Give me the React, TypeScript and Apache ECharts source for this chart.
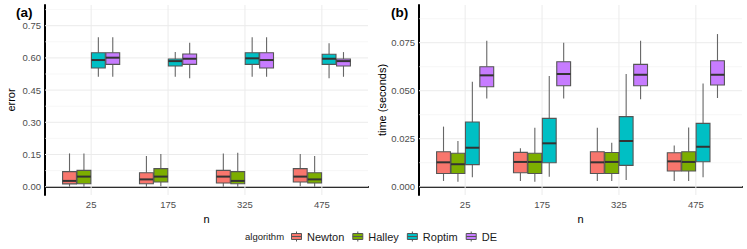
import React, { useEffect, useRef } from "react";
import * as echarts from "echarts";

const categories = ["25", "175", "325", "475"];
const algorithms = ["Newton", "Halley", "Roptim", "DE"];
const colors = ["#F8766D", "#7CAE00", "#00BFC4", "#C77CFF"];

// each row: [low whisker, Q1, median, Q3, high whisker] for n = 25, 175, 325, 475
const errorNewton = [
  [0.0, 0.013, 0.027, 0.07, 0.155],
  [0.0, 0.014, 0.034, 0.065, 0.143],
  [0.0, 0.017, 0.047, 0.076, 0.155],
  [0.002, 0.022, 0.047, 0.084, 0.152],
];
const errorHalley = [
  [0.0, 0.014, 0.047, 0.076, 0.155],
  [0.002, 0.022, 0.047, 0.084, 0.152],
  [0.0, 0.014, 0.027, 0.07, 0.158],
  [0.0, 0.017, 0.034, 0.065, 0.143],
];
const errorRoptim = [
  [0.512, 0.553, 0.59, 0.624, 0.696],
  [0.512, 0.562, 0.585, 0.595, 0.627],
  [0.512, 0.57, 0.598, 0.624, 0.696],
  [0.505, 0.57, 0.596, 0.617, 0.668],
];
const errorDE = [
  [0.512, 0.57, 0.601, 0.624, 0.696],
  [0.505, 0.57, 0.596, 0.618, 0.671],
  [0.512, 0.553, 0.59, 0.624, 0.696],
  [0.512, 0.562, 0.585, 0.595, 0.627],
];

const timeNewton = [
  [0.003, 0.0069, 0.0127, 0.0182, 0.0313],
  [0.003, 0.0073, 0.0129, 0.0179, 0.02],
  [0.003, 0.0069, 0.0127, 0.0182, 0.0307],
  [0.003, 0.0082, 0.0132, 0.0177, 0.0215],
];
const timeHalley = [
  [0.0026, 0.0069, 0.0117, 0.0174, 0.0238],
  [0.0026, 0.0069, 0.0129, 0.0174, 0.0307],
  [0.003, 0.0069, 0.0129, 0.0178, 0.0229],
  [0.003, 0.0082, 0.0129, 0.0182, 0.0309],
];
const timeRoptim = [
  [0.0049, 0.0115, 0.0203, 0.0337, 0.0547],
  [0.0052, 0.0125, 0.0226, 0.0356, 0.0576],
  [0.0035, 0.0111, 0.0238, 0.0365, 0.0587],
  [0.0049, 0.013, 0.0208, 0.033, 0.0538],
];
const timeDE = [
  [0.046, 0.0521, 0.058, 0.0625, 0.076],
  [0.046, 0.0526, 0.0587, 0.0651, 0.075],
  [0.0455, 0.0526, 0.0583, 0.0637, 0.076],
  [0.0462, 0.053, 0.0583, 0.0656, 0.0795],
];

const errorTicks = [0, 0.15, 0.3, 0.45, 0.6, 0.75];
const errorMinorTicks = [0.075, 0.225, 0.375, 0.525, 0.675, 0.825];
const timeTicks = [0, 0.025, 0.05, 0.075];
const timeMinorTicks = [0.0125, 0.0375, 0.0625, 0.0875];

const FONT = "'Liberation Sans', Arial, Helvetica, sans-serif";
const SLOT = 0.1875;
const BOX_W = 0.18;

export default function App() {
  const ref = useRef<HTMLDivElement>(null);

  useEffect(() => {
    if (!ref.current) return;
    const chart = echarts.init(ref.current, null, { renderer: "svg" });

    const errorData = [errorNewton, errorHalley, errorRoptim, errorDE];
    const timeData = [timeNewton, timeHalley, timeRoptim, timeDE];

    const boxRender = (algIdx: number) => (params: any, api: any) => {
      const x = api.value(0) + (algIdx - 1.5) * SLOT;
      const low = api.coord([x, api.value(1)]);
      const q1 = api.coord([x, api.value(2)]);
      const med = api.coord([x, api.value(3)]);
      const q3 = api.coord([x, api.value(4)]);
      const high = api.coord([x, api.value(5)]);
      const half = api.size([BOX_W, 0])[0] / 2;
      const cx = low[0];
      return {
        type: "group",
        children: [
          { type: "line", shape: { x1: cx, y1: high[1], x2: cx, y2: q3[1] }, style: { stroke: "#666666", lineWidth: 1.1 } },
          { type: "line", shape: { x1: cx, y1: q1[1], x2: cx, y2: low[1] }, style: { stroke: "#666666", lineWidth: 1.1 } },
          {
            type: "rect",
            shape: { x: cx - half, y: q3[1], width: half * 2, height: q1[1] - q3[1] },
            style: { fill: colors[algIdx], stroke: "#555555", lineWidth: 1.1 },
          },
          { type: "line", shape: { x1: cx - half, y1: med[1], x2: cx + half, y2: med[1] }, style: { stroke: "#333333", lineWidth: 2 } },
        ],
      };
    };

    const gridRender = (params: any, api: any) => {
      const cs = params.coordSys;
      const kind = api.value(0);
      const v = api.value(1);
      const major = api.value(2) === 1;
      const style = { stroke: major ? "#ebebeb" : "#f2f2f2", lineWidth: major ? 1 : 0.6 };
      if (kind === 0) {
        const p = api.coord([1, v]);
        return { type: "line", shape: { x1: cs.x, y1: p[1], x2: cs.x + cs.width, y2: p[1] }, style };
      }
      const p = api.coord([v, 0]);
      return { type: "line", shape: { x1: p[0], y1: cs.y, x2: p[0], y2: cs.y + cs.height }, style };
    };

    const gridLinesData = (major: number[], minor: number[]) => [
      ...minor.map((v) => [0, v, 0]),
      ...major.map((v) => [0, v, 1]),
      ...categories.map((_, i) => [1, i + 1, 1]),
    ];

    const xAxisBase = (gridIndex: number) => ({
      type: "value",
      gridIndex,
      min: 0.4,
      max: 4.6,
      minInterval: 1,
      maxInterval: 1,
      name: "n",
      nameLocation: "middle",
      nameGap: 15,
      nameTextStyle: { fontSize: 11, color: "#000", fontFamily: FONT },
      axisLine: { show: true, lineStyle: { color: "#000", width: 2 } },
      axisTick: { show: false },
      splitLine: { show: false },
      axisLabel: {
        margin: 4,
        fontSize: 9.5,
        color: "#4d4d4d",
        fontFamily: FONT,
        formatter: (v: number) => {
          const i = Math.round(v);
          if (Math.abs(v - i) < 1e-6 && i >= 1 && i <= categories.length) return categories[i - 1];
          return "";
        },
      },
    });

    const yAxisBase = (gridIndex: number, min: number, max: number, step: number, ticks: number[], digits: number, name: string, gap: number) => ({
      type: "value",
      gridIndex,
      min,
      max,
      minInterval: step,
      maxInterval: step,
      name,
      nameLocation: "middle",
      nameGap: gap,
      nameTextStyle: { fontSize: 11, color: "#000", fontFamily: FONT },
      axisLine: { show: true, lineStyle: { color: "#000", width: 2 } },
      axisTick: { show: false },
      splitLine: { show: false },
      axisLabel: {
        margin: 4,
        fontSize: 9.5,
        color: "#4d4d4d",
        fontFamily: FONT,
        formatter: (v: number) => (ticks.some((t) => Math.abs(t - v) < step * 1e-4) ? v.toFixed(digits) : ""),
      },
    });

    const series: any[] = [
      {
        type: "custom",
        name: "gridA",
        xAxisIndex: 0,
        yAxisIndex: 0,
        z: 1,
        silent: true,
        renderItem: gridRender,
        data: gridLinesData(errorTicks, errorMinorTicks),
      },
      {
        type: "custom",
        name: "gridB",
        xAxisIndex: 1,
        yAxisIndex: 1,
        z: 1,
        silent: true,
        renderItem: gridRender,
        data: gridLinesData(timeTicks, timeMinorTicks),
      },
    ];

    algorithms.forEach((alg, a) => {
      series.push({
        type: "custom",
        name: alg,
        xAxisIndex: 0,
        yAxisIndex: 0,
        z: 3,
        itemStyle: { color: colors[a] },
        renderItem: boxRender(a),
        encode: { x: 0, y: [1, 2, 3, 4, 5] },
        data: errorData[a].map((r, i) => [i + 1, ...r]),
      });
      series.push({
        type: "custom",
        name: alg,
        xAxisIndex: 1,
        yAxisIndex: 1,
        z: 3,
        itemStyle: { color: colors[a] },
        renderItem: boxRender(a),
        encode: { x: 0, y: [1, 2, 3, 4, 5] },
        data: timeData[a].map((r, i) => [i + 1, ...r]),
      });
    });

    chart.setOption({
      animation: false,
      backgroundColor: "#ffffff",
      textStyle: { fontFamily: FONT },
      grid: [
        { left: 45, top: 5, width: 323, height: 190, containLabel: false },
        { left: 419, top: 5, width: 323, height: 190, containLabel: false },
      ],
      xAxis: [xAxisBase(0), xAxisBase(1)],
      yAxis: [
        yAxisBase(0, -0.0387, 0.8464, 0.15, errorTicks, 2, "error", 29),
        yAxisBase(1, -0.00432, 0.09464, 0.025, timeTicks, 3, "time (seconds)", 30),
      ],
      legend: {
        data: algorithms,
        left: 286,
        top: 226,
        padding: 5,
        itemWidth: 11,
        itemHeight: 10,
        itemGap: 8,
        icon: "path://M0,2L10,2L10,8L0,8Z M0,5L10,5 M5,0L5,2 M5,8L5,10",
        itemStyle: { borderColor: "#555555", borderWidth: 1 },
        textStyle: { fontSize: 11, color: "#1a1a1a", fontFamily: FONT },
        selectedMode: false,
      },
      graphic: [
        { type: "text", left: 16, top: 5, style: { text: "(a)", font: `bold 13.5px ${FONT}`, fill: "#000" } },
        { type: "text", left: 391, top: 5, style: { text: "(b)", font: `bold 13.5px ${FONT}`, fill: "#000" } },
        { type: "text", left: 245, top: 231, style: { text: "algorithm", font: `9.5px ${FONT}`, fill: "#1a1a1a" } },
      ],
      series,
    });

    return () => chart.dispose();
  }, []);

  return <div ref={ref} style={{ width: 747, height: 249, position: "absolute", left: 0, top: 0 }} />;
}
